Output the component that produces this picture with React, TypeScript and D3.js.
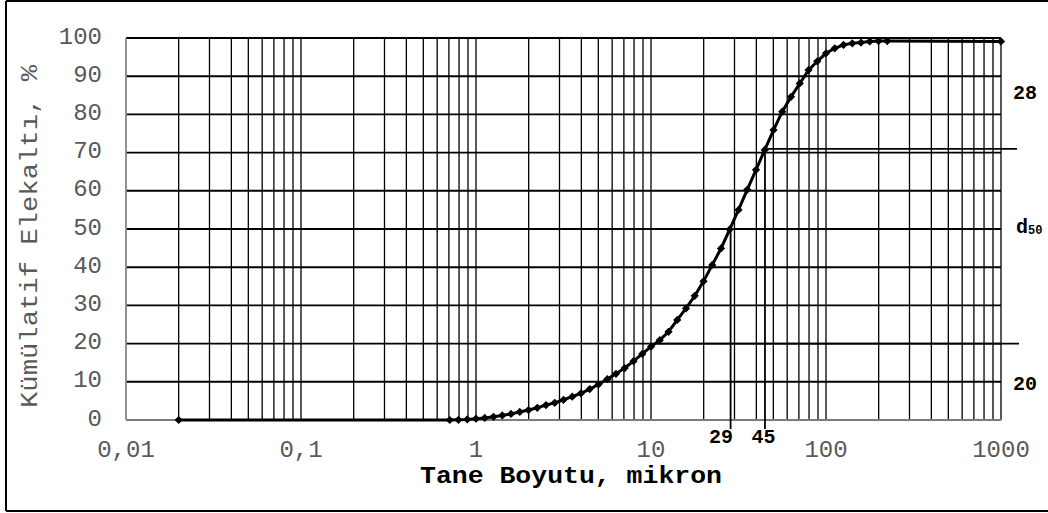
import React from "react";
import * as d3 from "d3";

// particle size (micron) and cumulative passing (%)
const sizes = [
  0.02, 0.708, 0.794, 0.891, 1.0, 1.122, 1.259, 1.413, 1.585, 1.778, 1.995,
  2.239, 2.512, 2.818, 3.162, 3.548, 3.981, 4.467, 5.012, 5.623, 6.31, 7.079,
  7.943, 8.913, 10.0, 11.22, 12.59, 14.13, 15.85, 17.78, 19.95, 22.39, 25.12,
  28.18, 31.62, 35.48, 39.81, 44.67, 50.12, 56.23, 63.1, 70.79, 79.43, 89.13,
  100.0, 112.2, 125.9, 141.3, 158.5, 177.8, 199.5, 223.9, 1000,
];
const cumulative = [
  0, 0, 0.05, 0.15, 0.35, 0.55, 0.85, 1.2, 1.6, 2.1, 2.6, 3.2, 3.9, 4.5, 5.3,
  6.1, 7.0, 8.1, 9.3, 10.7, 12.1, 13.6, 15.4, 17.3, 19.2, 20.9, 23.1, 26.2,
  29.2, 32.5, 36.3, 40.6, 44.9, 49.9, 55.0, 60.3, 65.5, 70.7, 75.9, 80.7, 84.6,
  88.1, 91.6, 93.9, 96.0, 97.3, 98.2, 98.6, 98.8, 99.1, 99.2, 99.2, 99.1,
];

const xTickValues = [0.01, 0.1, 1, 10, 100, 1000];
const xTickLabels = ["0,01", "0,1", "1", "10", "100", "1000"];
const yTickValues = [0, 10, 20, 30, 40, 50, 60, 70, 80, 90, 100];

// reference lines: d-values
const dLines = [
  { x: 28.5, y: 50, label: "29" },
  { x: 44.8, y: 71, label: "45" },
];
const d20Start = 10.5;
const d20Value = 20;
const sideLabels = [
  { y: 85.6, text: "28" },
  { y: 9.3, text: "20" },
];

const FONT = "'Liberation Mono', 'Courier New', monospace";

export default function App() {
  const W = 1048;
  const H = 513;
  const x = d3.scaleLog().domain([0.01, 1000]).range([126, 1001]);
  const y = d3.scaleLinear().domain([0, 100]).range([420, 38]);

  const gridX: number[] = [];
  for (let e = -2; e <= 2; e++) {
    for (let m = 1; m <= 9; m++) gridX.push(m * Math.pow(10, e));
  }
  gridX.push(1000);

  const pts = sizes.map((s, i) => [s, cumulative[i]] as [number, number]);
  const line = d3
    .line<[number, number]>()
    .x((d) => x(d[0]))
    .y((d) => y(d[1]));
  const marker = d3.symbol().type(d3.symbolSquare).size(34)() as string;

  return (
    <svg
      width={W}
      height={H}
      style={{ position: "absolute", left: 0, top: 0, background: "#fff" }}
    >
      {/* outer frame */}
      <line x1={6} x2={W} y1={1} y2={1} stroke="#000" strokeWidth={2} />
      <line x1={6} x2={6} y1={1} y2={511} stroke="#000" strokeWidth={2} />
      <line x1={6} x2={W} y1={511} y2={511} stroke="#000" strokeWidth={2} />

      {/* vertical grid */}
      {gridX.map((v, i) => (
        <line
          key={"gx" + i}
          x1={x(v)}
          x2={x(v)}
          y1={y(100)}
          y2={y(0)}
          stroke="#000"
          strokeWidth={1.3}
        />
      ))}
      {/* horizontal grid */}
      {yTickValues.map((v) => (
        <line
          key={"gy" + v}
          x1={x(0.01)}
          x2={x(1000)}
          y1={y(v)}
          y2={y(v)}
          stroke="#000"
          strokeWidth={1.9}
        />
      ))}
      {/* axes */}
      <line x1={x(0.01)} x2={x(0.01)} y1={y(100)} y2={y(0)} stroke="#a6a6a6" strokeWidth={1.5} />
      <line x1={x(0.01)} x2={x(1000)} y1={y(0)} y2={y(0)} stroke="#a6a6a6" strokeWidth={1.5} />

      {/* reference lines */}
      {dLines.map((d) => (
        <line
          key={"dl" + d.label}
          x1={x(d.x)}
          x2={x(d.x)}
          y1={y(d.y)}
          y2={429}
          stroke="#000"
          strokeWidth={1.8}
        />
      ))}
      <line x1={x(dLines[1].x)} x2={1017} y1={y(dLines[1].y)} y2={y(dLines[1].y)} stroke="#000" strokeWidth={1.8} />
      <line x1={x(d20Start)} x2={1019} y1={y(d20Value)} y2={y(d20Value)} stroke="#000" strokeWidth={1.8} />

      {/* curve */}
      <path d={line(pts) || ""} fill="none" stroke="#000" strokeWidth={3} />
      {pts.map((p, i) => (
        <path
          key={"m" + i}
          d={marker}
          transform={`translate(${x(p[0])},${y(p[1])}) rotate(45)`}
          fill="#000"
        />
      ))}

      {/* tick labels */}
      {yTickValues.map((v) => (
        <text
          key={"yt" + v}
          x={102}
          y={y(v) + 5.5}
          textAnchor="end"
          fontFamily={FONT}
          fontSize={24}
          fill="#595959"
        >
          {v}
        </text>
      ))}
      {xTickValues.map((v, i) => (
        <text
          key={"xt" + v}
          x={x(v)}
          y={457}
          textAnchor="middle"
          fontFamily={FONT}
          fontSize={24}
          fill="#595959"
        >
          {xTickLabels[i]}
        </text>
      ))}

      {/* axis titles */}
      <text
        x={571}
        y={483}
        textAnchor="middle"
        fontFamily={FONT}
        fontSize={24}
        fontWeight="bold"
        fill="#000"
        textLength={302}
        lengthAdjust="spacingAndGlyphs"
      >
        Tane Boyutu, mikron
      </text>
      <text
        transform="translate(37,236.5) rotate(-90)"
        textAnchor="middle"
        fontFamily={FONT}
        fontSize={23}
        fill="#595959"
        textLength={343}
        lengthAdjust="spacingAndGlyphs"
      >
        Kümülatif Elekaltı, %
      </text>

      {/* annotation labels */}
      {dLines.map((d, i) => (
        <text
          key={"dlab" + d.label}
          x={i === 0 ? x(d.x) - 9.5 : x(d.x) - 1.5}
          y={442.5}
          textAnchor="middle"
          fontFamily={FONT}
          fontSize={20}
          fontWeight="bold"
          fill="#000"
        >
          {d.label}
        </text>
      ))}
      {sideLabels.map((s) => (
        <text
          key={"sl" + s.text}
          x={1025}
          y={y(s.y) + 5.5}
          textAnchor="middle"
          fontFamily={FONT}
          fontSize={20}
          fontWeight="bold"
          fill="#000"
        >
          {s.text}
        </text>
      ))}
      <text x={1016} y={y(50) + 4} fontFamily={FONT} fontSize={20} fontWeight="bold" fill="#000">
        d
        <tspan fontSize={12} dy={0.5}>
          50
        </tspan>
      </text>
    </svg>
  );
}
